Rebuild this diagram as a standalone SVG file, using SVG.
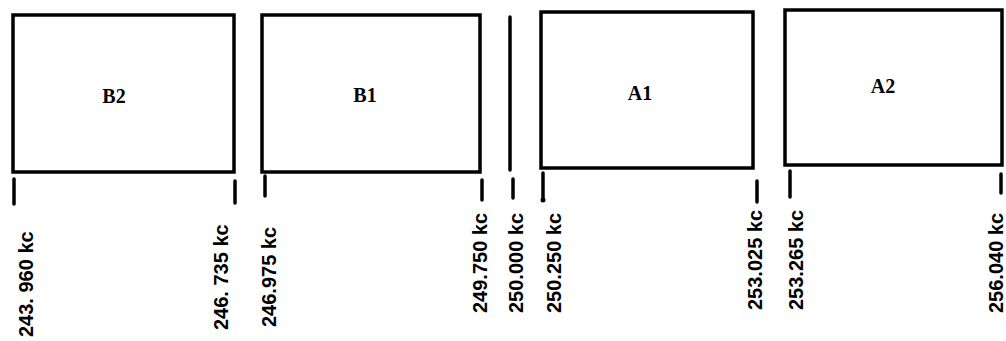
<svg xmlns="http://www.w3.org/2000/svg" width="1006" height="341" viewBox="0 0 1006 341">
<style>
.box{fill:#fff;stroke:#000;stroke-width:3.5}
.name{font-family:"Liberation Serif","Times New Roman",serif;font-weight:bold;font-size:20px;text-anchor:middle;fill:#000}
.freq{font-family:"Liberation Sans",Arial,sans-serif;font-weight:bold;font-size:20px;fill:#000}
.tick{stroke:#000;stroke-width:3.5;stroke-linecap:round}
</style>
<rect width="1006" height="341" fill="#fff"/>
<g id="B2"><rect class="box" x="13" y="15" width="221" height="157"/><text class="name" x="114" y="103">B2</text></g>
<g id="B1"><rect class="box" x="262" y="15" width="218" height="157"/><text class="name" x="365" y="102">B1</text></g>
<g id="A1"><rect class="box" x="541" y="12" width="212" height="156"/><text class="name" x="640" y="100">A1</text></g>
<g id="A2"><rect class="box" x="785" y="10" width="217" height="155"/><text class="name" x="883" y="93">A2</text></g>
<g id="connectors">
<line class="tick" x1="510" y1="17" x2="510" y2="170"/>
<line class="tick" x1="14" y1="179" x2="14" y2="204"/>
<line class="tick" x1="235" y1="181" x2="235" y2="203"/>
<line class="tick" x1="265" y1="176" x2="265" y2="196"/>
<line class="tick" x1="482" y1="180" x2="482" y2="200"/>
<line class="tick" x1="513" y1="179" x2="513" y2="198"/>
<line class="tick" x1="543" y1="173" x2="543" y2="199"/>
<circle cx="543" cy="200" r="2.5" fill="#000"/>
<line class="tick" x1="757" y1="181" x2="757" y2="202"/>
<line class="tick" x1="790" y1="171" x2="790" y2="197"/>
<line class="tick" x1="1001" y1="174" x2="1001" y2="193"/>
</g>
<g id="labels">
<text class="freq" transform="translate(33,337) rotate(-90)">243. 960 kc</text>
<text class="freq" transform="translate(228,330) rotate(-90)">246. 735 kc</text>
<text class="freq" transform="translate(276,327) rotate(-90)">246.975 kc</text>
<text class="freq" transform="translate(487,313) rotate(-90)">249.750 kc</text>
<text class="freq" transform="translate(523,313) rotate(-90)">250.000 kc</text>
<text class="freq" transform="translate(561,313) rotate(-90)">250.250 kc</text>
<text class="freq" transform="translate(762,310) rotate(-90)">253.025 kc</text>
<text class="freq" transform="translate(803,310) rotate(-90)">253.265 kc</text>
<text class="freq" transform="translate(1003,313) rotate(-90)">256.040 kc</text>
</g>
</svg>
